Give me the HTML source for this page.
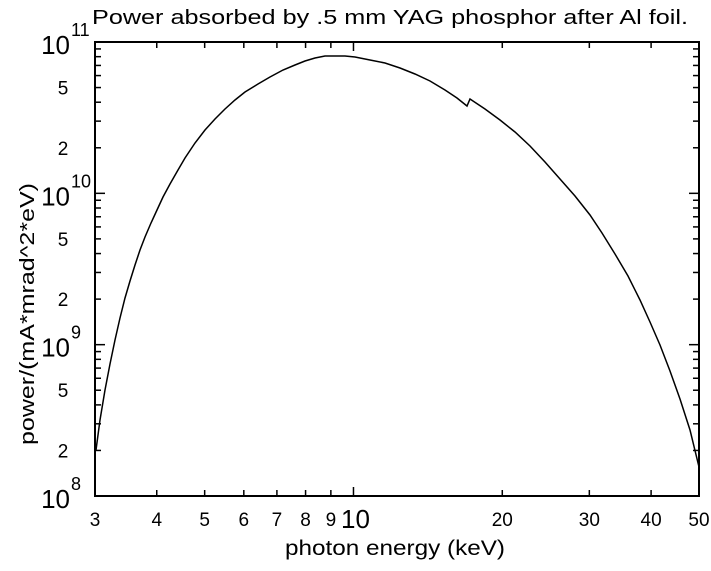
<!DOCTYPE html>
<html><head><style>
body{margin:0;background:#fff}
svg text{font-family:"Liberation Sans",sans-serif;fill:#000}
</style></head><body>
<svg width="711" height="566" viewBox="0 0 711 566" xmlns="http://www.w3.org/2000/svg">
<rect width="711" height="566" fill="#fff"/>
<text x="92" y="24" font-size="20" textLength="596" lengthAdjust="spacingAndGlyphs">Power absorbed by .5 mm YAG phosphor after Al foil.</text>
<rect x="95" y="42" width="604" height="454" fill="none" stroke="#000" stroke-width="2"/>
<g id="ticks" stroke="#000" stroke-width="1.5"></g>
<g id="labels" font-size="19"></g>
<path fill="none" stroke="#000" stroke-width="1.5" d="M96,450 L100,420 L105,390 L110,364 L115,340 L120,318 L125,298 L130,281 L135,265 L140,250 L145,237 L151,223 L157,210 L163,197 L170,184 L178,170 L185,158 L195,143 L205,130 L215,119 L225,109 L235,100 L245,92 L258,84 L270,77 L283,70 L295,65 L305,61 L315,58 L325,56 L335,56 L345,56 L355,57 L370,60 L385,63 L400,68 L415,74 L430,81 L445,90 L457,98 L467,106 L470,99 L485,109 L500,120 L515,132 L530,146 L545,162 L560,179 L575,196 L590,215 L602,233 L615,254 L628,276 L640,300 L650,322 L660,345 L670,371 L680,399 L690,430 L699,467"/>
<text x="285" y="555" font-size="21" textLength="220" lengthAdjust="spacingAndGlyphs">photon energy (keV)</text>
<text transform="translate(34,445) rotate(-90)" font-size="20" textLength="262" lengthAdjust="spacingAndGlyphs">power/(mA*mrad^2*eV)</text>
</svg>
<script>
var ns="http://www.w3.org/2000/svg",T=document.getElementById("ticks"),L=document.getElementById("labels");
function ln(x1,y1,x2,y2){var l=document.createElementNS(ns,"line");l.setAttribute("x1",x1);l.setAttribute("y1",y1);l.setAttribute("x2",x2);l.setAttribute("y2",y2);T.appendChild(l);}
function tx(x,y,s,a,fs){var t=document.createElementNS(ns,"text");t.setAttribute("x",x);t.setAttribute("y",y);t.setAttribute("text-anchor",a||"middle");if(fs)t.setAttribute("font-size",fs);t.textContent=s;L.appendChild(t);return t;}
function X(v){return 95+604*Math.log(v/3)/Math.log(50/3);}
function Y(v){return 496-454*(Math.log10(v)-8)/3;}
[4,5,6,7,8,9,10,20,30,40].forEach(function(v){var x=X(v),len=v==10?9:6;ln(x,496,x,496-len);ln(x,42,x,42+len);});
[3,4,5,6,7,8,9,20,30,40,50].forEach(function(v){tx(X(v),526,""+v);});
tx(X(10)+2,528,"10","middle",26);
for(var d=8;d<11;d++){for(var m=2;m<=9;m++){var y=Y(m*Math.pow(10,d));ln(95,y,101,y);ln(699,y,693,y);}
 if(d>8){var y=Y(Math.pow(10,d));ln(95,y,105,y);ln(699,y,689,y);}
 [2,5].forEach(function(m){tx(63,Y(m*Math.pow(10,d))+7,""+m,"middle");});}
[8,9,10,11].forEach(function(d){var y=Y(Math.pow(10,d));tx(70,y+12,"10","end",26);tx(71,y-6,""+d,"start",18);});
</script>
</body></html>
